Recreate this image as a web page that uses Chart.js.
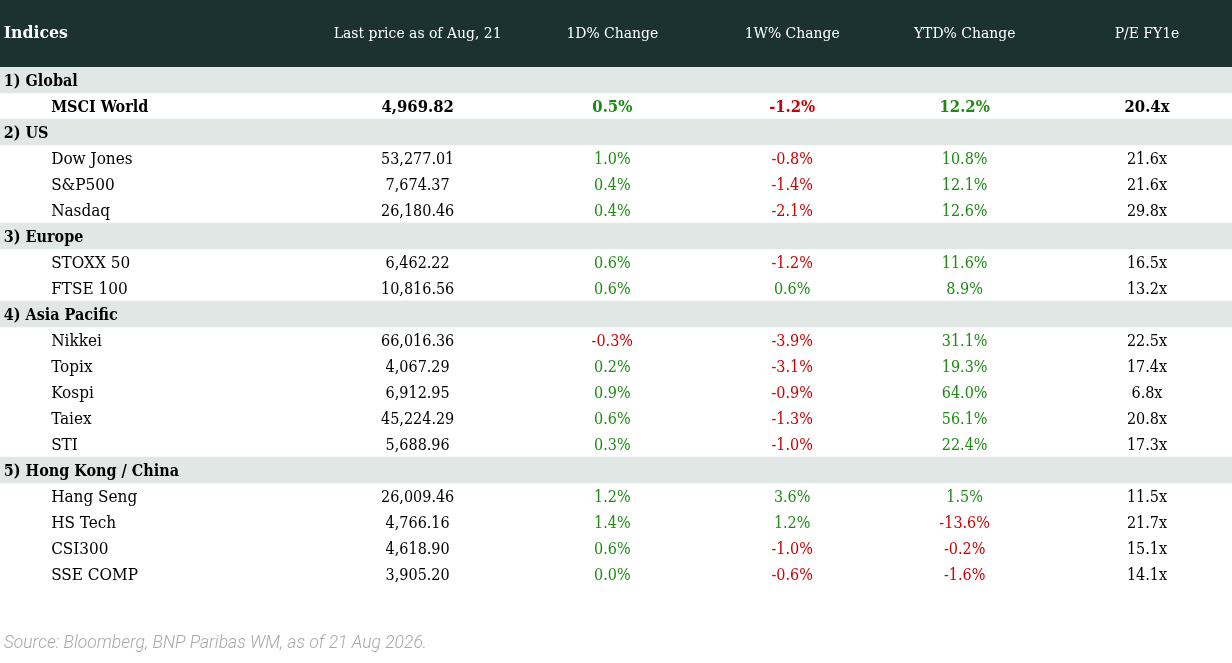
<!DOCTYPE html>
<html lang="en">
<head>
  <meta charset="UTF-8" />
  <title>Indices</title>
  <script src="https://cdn.jsdelivr.net/npm/chart.js"></script>
  <style>
    html, body { margin: 0; padding: 0; background: #ffffff; }
    canvas { display: block; }
  </style>
</head>
<body>
  <canvas id="table" width="1232" height="663"></canvas>

  <script>
    // table content
    const headers = ['Indices', 'Last price as of Aug, 21', '1D% Change', '1W% Change', 'YTD% Change', 'P/E FY1e'];
    const rowLabels = [
      '1) Global', 'MSCI World',
      '2) US', 'Dow Jones', 'S&P500', 'Nasdaq',
      '3) Europe', 'STOXX 50', 'FTSE 100',
      '4) Asia Pacific', 'Nikkei', 'Topix', 'Kospi', 'Taiex', 'STI',
      '5) Hong Kong / China', 'Hang Seng', 'HS Tech', 'CSI300', 'SSE COMP'
    ];
    const lastPrice = [null, 4969.82, null, 53277.01, 7674.37, 26180.46, null, 6462.22, 10816.56,
      null, 66016.36, 4067.29, 6912.95, 45224.29, 5688.96, null, 26009.46, 4766.16, 4618.90, 3905.20];
    const change1D = [null, 0.5, null, 1.0, 0.4, 0.4, null, 0.6, 0.6,
      null, -0.3, 0.2, 0.9, 0.6, 0.3, null, 1.2, 1.4, 0.6, 0.0];
    const change1W = [null, -1.2, null, -0.8, -1.4, -2.1, null, -1.2, 0.6,
      null, -3.9, -3.1, -0.9, -1.3, -1.0, null, 3.6, 1.2, -1.0, -0.6];
    const changeYTD = [null, 12.2, null, 10.8, 12.1, 12.6, null, 11.6, 8.9,
      null, 31.1, 19.3, 64.0, 56.1, 22.4, null, 1.5, -13.6, -0.2, -1.6];
    const peFY1 = [null, 20.4, null, 21.6, 21.6, 29.8, null, 16.5, 13.2,
      null, 22.5, 17.4, 6.8, 20.8, 17.3, null, 11.5, 21.7, 15.1, 14.1];
    const boldRows = ['MSCI World'];
    const source = 'Source: Bloomberg, BNP Paribas WM, as of 21 Aug 2026.';

    // layout (x scale runs 0..100 across the table)
    const sectionX = 0.3;
    const nameX = 4.15;
    const colX = [33.9, 49.7, 64.3, 78.3, 93.1];
    const HEADER_BG = '#1b3230';
    const BAND_BG = '#e1e7e4';
    const GREEN = '#1e8a14';
    const RED = '#cc0000';
    const SERIF = "'DejaVu Serif Condensed', 'DejaVu Serif', serif";

    const isSection = lastPrice.map(v => v === null);

    const fmtPrice = v => v.toLocaleString('en-US', { minimumFractionDigits: 2, maximumFractionDigits: 2 });
    const fmtPct = v => v.toFixed(1) + '%';
    const pctColor = v => v < 0 ? RED : GREEN;

    const tablePlugin = {
      id: 'tablePlugin',
      beforeDraw(chart) {
        const { ctx, width, chartArea } = chart;
        ctx.save();
        ctx.fillStyle = '#ffffff';
        ctx.fillRect(0, 0, width, chart.height);
        ctx.fillStyle = HEADER_BG;
        ctx.fillRect(0, 0, width, chartArea.top);
        ctx.restore();
      },
      afterDatasetsDraw(chart) {
        const { ctx, chartArea, scales: { x, y } } = chart;
        ctx.save();
        ctx.textBaseline = 'middle';

        // header
        const hy = chartArea.top / 2;
        ctx.fillStyle = '#ffffff';
        ctx.textAlign = 'left';
        ctx.font = "bold 17.5px " + SERIF;
        ctx.fillText(headers[0], x.getPixelForValue(sectionX), hy);
        ctx.font = "15.5px " + SERIF;
        ctx.textAlign = 'center';
        headers.slice(1).forEach((h, i) => ctx.fillText(h, x.getPixelForValue(colX[i]), hy));

        // rows
        rowLabels.forEach((label, i) => {
          const py = y.getPixelForValue(i) + 1.5;
          if (isSection[i]) {
            ctx.textAlign = 'left';
            ctx.fillStyle = '#000000';
            ctx.font = "bold 16px " + SERIF;
            ctx.fillText(label, x.getPixelForValue(sectionX), py);
            return;
          }
          const bold = boldRows.includes(label);
          ctx.font = bold ? "bold 16px " + SERIF : "17px " + SERIF;
          ctx.textAlign = 'left';
          ctx.fillStyle = '#000000';
          ctx.fillText(label, x.getPixelForValue(nameX), py);

          ctx.font = bold ? "bold 16.5px " + SERIF : "16px " + SERIF;
          ctx.textAlign = 'center';
          const cells = [
            [fmtPrice(lastPrice[i]), '#000000'],
            [fmtPct(change1D[i]), pctColor(change1D[i])],
            [fmtPct(change1W[i]), pctColor(change1W[i])],
            [fmtPct(changeYTD[i]), pctColor(changeYTD[i])],
            [peFY1[i].toFixed(1) + 'x', '#000000']
          ];
          cells.forEach(([text, color], c) => {
            ctx.fillStyle = color;
            ctx.fillText(text, x.getPixelForValue(colX[c]), py);
          });
        });

        // source note
        ctx.textAlign = 'left';
        ctx.fillStyle = '#a8a8ac';
        ctx.font = "italic 300 17.5px Roboto, 'Open Sans', sans-serif";
        ctx.fillText(source, x.getPixelForValue(sectionX), 644);
        ctx.restore();
      }
    };

    new Chart(document.getElementById('table'), {
      type: 'bar',
      data: {
        labels: rowLabels,
        datasets: [{
          // grey band behind each section row
          data: isSection.map(s => s ? [0, 100] : null),
          backgroundColor: BAND_BG,
          borderWidth: 0,
          barPercentage: 1,
          categoryPercentage: 1
        }]
      },
      options: {
        indexAxis: 'y',
        responsive: false,
        animation: false,
        layout: { padding: { top: 67, bottom: 76, left: 0, right: 0 } },
        plugins: { legend: { display: false }, tooltip: { enabled: false } },
        scales: {
          x: { type: 'linear', min: 0, max: 100, display: false },
          y: { type: 'category', display: false, offset: true }
        }
      },
      plugins: [tablePlugin]
    });
  </script>
</body>
</html>
